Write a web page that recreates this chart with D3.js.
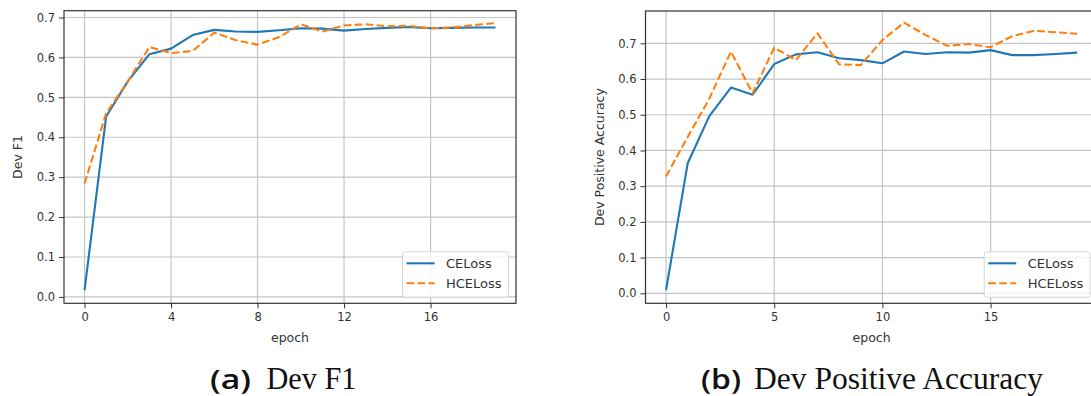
<!DOCTYPE html>
<html>
<head>
<meta charset="utf-8">
<script src="https://cdn.jsdelivr.net/npm/d3@7"></script>
<style>
  html, body { margin: 0; padding: 0; background: #fff; }
  svg { display: block; }
  text { font-family: "DejaVu Sans", sans-serif; }
</style>
</head>
<body>
<div id="chart"></div>
<script>
// epochs
const epochs = d3.range(20);

// (a) Dev F1
const f1CE  = [0.017, 0.452, 0.540, 0.608, 0.622, 0.656, 0.669, 0.665, 0.664, 0.668,
               0.673, 0.672, 0.667, 0.671, 0.674, 0.676, 0.673, 0.674, 0.675, 0.675];
const f1HCE = [0.284, 0.460, 0.540, 0.626, 0.611, 0.616, 0.662, 0.643, 0.632, 0.651,
               0.683, 0.665, 0.680, 0.683, 0.678, 0.679, 0.673, 0.675, 0.681, 0.686];

// (b) Dev Positive Accuracy
const accCE  = [0.009, 0.364, 0.496, 0.576, 0.556, 0.642, 0.669, 0.675, 0.658, 0.653,
                0.644, 0.677, 0.670, 0.675, 0.674, 0.681, 0.667, 0.667, 0.670, 0.674];
const accHCE = [0.327, 0.438, 0.545, 0.677, 0.560, 0.688, 0.653, 0.728, 0.641, 0.639,
                0.709, 0.758, 0.723, 0.693, 0.698, 0.689, 0.720, 0.735, 0.731, 0.727];

const leftTicksX  = [0, 4, 8, 12, 16];
const rightTicksX = [0, 5, 10, 15];
const ticksY = [0, 0.1, 0.2, 0.3, 0.4, 0.5, 0.6, 0.7];
const seriesNames = ["CELoss", "HCELoss"];
const colors = ["#1f77b4", "#ff7f0e"];

const W = 1091, H = 396;
const svg = d3.select("#chart").append("svg")
  .attr("width", W).attr("height", H);

// 画一个子图
function drawPanel(opt) {
  const x = d3.scaleLinear().domain([-0.95, 19.95]).range([opt.left, opt.right]);
  const y = d3.scaleLinear().domain(opt.yDomain).range([opt.bottom, opt.top]);
  const g = svg.append("g");

  // 网格
  g.selectAll(".gx").data(opt.ticksX).enter().append("line")
    .attr("x1", d => x(d)).attr("x2", d => x(d))
    .attr("y1", opt.top).attr("y2", opt.bottom)
    .style("stroke", "#c4c4c4").style("stroke-width", 1.2);
  g.selectAll(".gy").data(ticksY).enter().append("line")
    .attr("x1", opt.left).attr("x2", opt.right)
    .attr("y1", d => y(d)).attr("y2", d => y(d))
    .style("stroke", "#c4c4c4").style("stroke-width", 1.2);

  // 坐标轴
  const xAxis = d3.axisBottom(x).tickValues(opt.ticksX).tickFormat(d3.format("d"))
    .tickSize(5).tickPadding(5);
  const yAxis = d3.axisLeft(y).tickValues(ticksY).tickFormat(d3.format(".1f"))
    .tickSize(5).tickPadding(4);
  const ax = g.append("g").attr("transform", `translate(0,${opt.bottom})`).call(xAxis);
  const ay = g.append("g").attr("transform", `translate(${opt.left},0)`).call(yAxis);
  [ax, ay].forEach(a => {
    a.select(".domain").remove();
    a.selectAll("line").style("stroke", "#333").style("stroke-width", 1);
    a.selectAll("text").style("font-family", "DejaVu Sans").style("font-size", "11.5px")
      .style("fill", "#333");
  });

  // 边框
  g.append("rect")
    .attr("x", opt.left).attr("y", opt.top)
    .attr("width", opt.right - opt.left).attr("height", opt.bottom - opt.top)
    .style("fill", "none").style("stroke", "#333").style("stroke-width", 1.2);

  // 曲线
  const line = d3.line().x((d, i) => x(epochs[i])).y(d => y(d));
  opt.series.forEach((s, i) => {
    g.append("path").datum(s)
      .attr("d", line)
      .style("fill", "none")
      .style("stroke", colors[i])
      .style("stroke-width", 2.1)
      .style("stroke-linejoin", "round")
      .style("stroke-dasharray", i === 1 ? "7.7,3.3" : null);
  });

  // 轴标题
  g.append("text")
    .attr("x", (opt.left + opt.right) / 2).attr("y", 341.5)
    .attr("text-anchor", "middle")
    .style("font-size", "12.5px").style("fill", "#333")
    .text("epoch");
  g.append("text")
    .attr("transform", `translate(${opt.yLabelX},${(opt.top + opt.bottom) / 2}) rotate(-90)`)
    .attr("text-anchor", "middle")
    .style("font-size", "12.5px").style("fill", "#333")
    .text(opt.yLabel);

  // 图例
  const lx = opt.right - 113.5, ly = opt.bottom - 51.6;
  const lg = g.append("g").attr("transform", `translate(${lx},${ly})`);
  lg.append("rect")
    .attr("width", 106).attr("height", 45.6).attr("rx", 3)
    .style("fill", "rgba(255,255,255,0.8)").style("stroke", "#d6d6d6");
  seriesNames.forEach((name, i) => {
    const yy = 11.6 + i * 20;
    lg.append("line")
      .attr("x1", 4).attr("x2", 32).attr("y1", yy).attr("y2", yy)
      .style("stroke", colors[i]).style("stroke-width", 2.1)
      .style("stroke-dasharray", i === 1 ? "7.7,3.3" : null);
    lg.append("text")
      .attr("x", 43.5).attr("y", yy).attr("dy", "0.35em")
      .style("font-size", "13px").style("fill", "#333")
      .text(name);
  });

  // 子图标题
  svg.append("text")
    .attr("x", opt.capTagX).attr("y", 388.5)
    .attr("textLength", opt.capTagW).attr("lengthAdjust", "spacingAndGlyphs")
    .style("font-family", "'Open Sans', sans-serif").style("font-weight", 600)
    .style("font-size", "27px").style("fill", "#111")
    .text(opt.capTag);
  svg.append("text")
    .attr("x", opt.capTextX).attr("y", 388.5)
    .attr("textLength", opt.capTextW).attr("lengthAdjust", "spacingAndGlyphs")
    .style("font-family", "'Liberation Serif', serif")
    .style("font-size", "31px").style("fill", "#111")
    .text(opt.capText);
}

drawPanel({
  left: 64, right: 516, top: 10.7, bottom: 303.3,
  yDomain: [-0.016, 0.717],
  ticksX: leftTicksX,
  series: [f1CE, f1HCE],
  yLabel: "Dev F1", yLabelX: 22,
  capTag: "(a)", capTagX: 210, capTagW: 41,
  capText: "Dev F1", capTextX: 266.5, capTextW: 90
});

drawPanel({
  left: 645.5, right: 1097.7, top: 11, bottom: 303.3,
  yDomain: [-0.028, 0.7905],
  ticksX: rightTicksX,
  series: [accCE, accHCE],
  yLabel: "Dev Positive Accuracy", yLabelX: 604,
  capTag: "(b)", capTagX: 701, capTagW: 40,
  capText: "Dev Positive Accuracy", capTextX: 754, capTextW: 289
});
</script>
</body>
</html>
